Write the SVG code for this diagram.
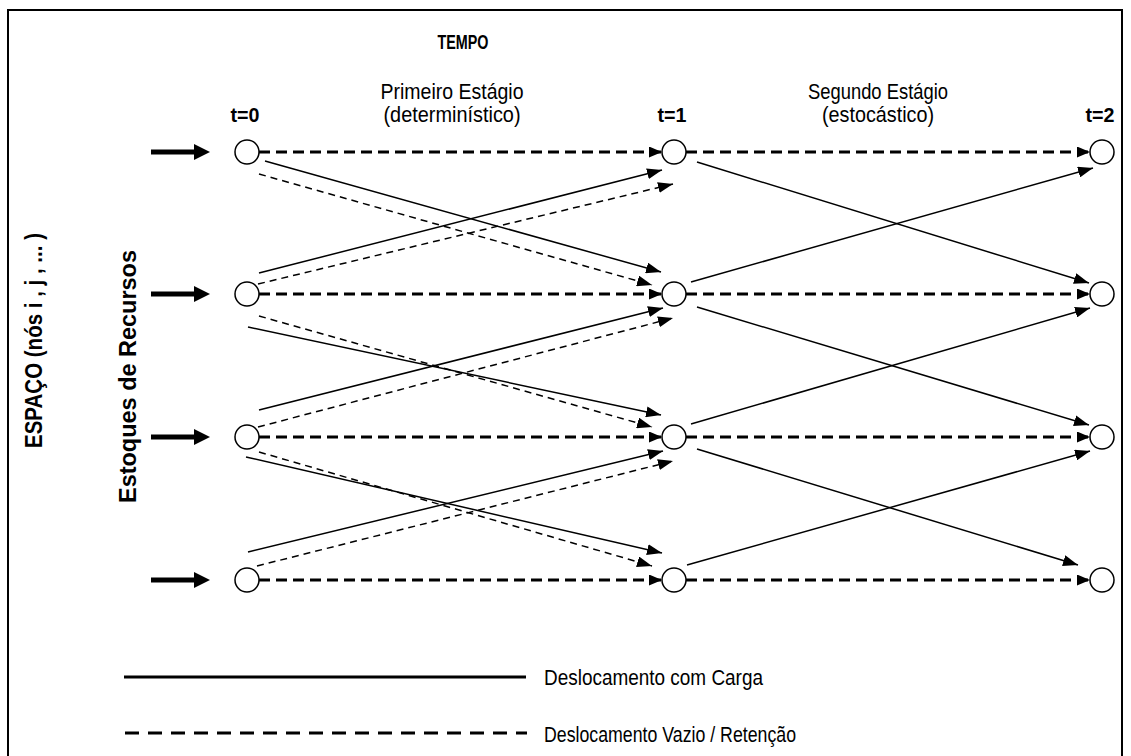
<svg xmlns="http://www.w3.org/2000/svg" width="1131" height="756" viewBox="0 0 1131 756">
<defs>
<style>
.t{font-family:"Liberation Sans",Arial,sans-serif;fill:#000}
.b{font-weight:bold}
.node{fill:#fff;stroke:#000;stroke-width:1.5}
.hd{stroke:#000;stroke-width:3;stroke-dasharray:11 6;fill:none}
.sd{stroke:#000;stroke-width:1.5;fill:none}
.dd{stroke:#000;stroke-width:1.5;stroke-dasharray:7 5;fill:none}
</style>
<marker id="ah" markerUnits="userSpaceOnUse" markerWidth="15" markerHeight="11" refX="15" refY="5.5" orient="auto">
<path d="M0,0 L15,5.5 L0,11 z" fill="#000"/>
</marker>
<marker id="ahh" markerUnits="userSpaceOnUse" markerWidth="13" markerHeight="11" refX="13" refY="5.5" orient="auto">
<path d="M0,0 L13,5.5 L0,11 z" fill="#000"/>
</marker>
</defs>
<rect x="0" y="0" width="1131" height="756" fill="#fff"/>
<rect x="8" y="10" width="1114" height="770" fill="none" stroke="#000" stroke-width="2"/>

<g id="labels">
<text class="t b" x="463" y="49" font-size="20" text-anchor="middle" textLength="51" lengthAdjust="spacingAndGlyphs">TEMPO</text>
<text class="t" x="452" y="99" font-size="22" text-anchor="middle" textLength="143" lengthAdjust="spacingAndGlyphs">Primeiro Estágio</text>
<text class="t" x="452" y="122" font-size="22" text-anchor="middle" textLength="137" lengthAdjust="spacingAndGlyphs">(determinístico)</text>
<text class="t" x="878" y="99" font-size="22" text-anchor="middle" textLength="140" lengthAdjust="spacingAndGlyphs">Segundo Estágio</text>
<text class="t" x="878" y="122" font-size="22" text-anchor="middle" textLength="112" lengthAdjust="spacingAndGlyphs">(estocástico)</text>
<text class="t b" x="245" y="122" font-size="20" text-anchor="middle" textLength="29" lengthAdjust="spacingAndGlyphs">t=0</text>
<text class="t b" x="672" y="122" font-size="20" text-anchor="middle" textLength="29" lengthAdjust="spacingAndGlyphs">t=1</text>
<text class="t b" x="1100" y="122" font-size="20" text-anchor="middle" textLength="29" lengthAdjust="spacingAndGlyphs">t=2</text>
<text class="t b" x="42" y="448" font-size="23" transform="rotate(-90 42 448)" textLength="215" lengthAdjust="spacingAndGlyphs">ESPAÇO (nós i , j , ... )</text>
<text class="t b" x="136" y="503" font-size="23" transform="rotate(-90 136 503)" textLength="253" lengthAdjust="spacingAndGlyphs">Estoques de Recursos</text>
</g>

<g id="inputs" fill="#000">
<path d="M151,149.5 H194 V144 L210,152 L194,160 V154.5 H151 z"/>
<path d="M151,291.5 H194 V286 L210,294 L194,302 V296.5 H151 z"/>
<path d="M151,434.5 H194 V429 L210,437 L194,445 V439.5 H151 z"/>
<path d="M151,577.5 H194 V572 L210,580 L194,588 V582.5 H151 z"/>
</g>

<g id="connectors">
<g class="hd" marker-end="url(#ahh)">
<line x1="259" y1="152" x2="662" y2="152"/>
<line x1="686" y1="152" x2="1090" y2="152"/>
<line x1="259" y1="294" x2="662" y2="294"/>
<line x1="686" y1="294" x2="1090" y2="294"/>
<line x1="259" y1="437" x2="662" y2="437"/>
<line x1="686" y1="437" x2="1090" y2="437"/>
<line x1="259" y1="580" x2="662" y2="580"/>
<line x1="686" y1="580" x2="1090" y2="580"/>
</g>
<g class="sd" marker-end="url(#ah)">
<line x1="265" y1="161" x2="661" y2="272"/>
<line x1="259" y1="273" x2="662" y2="170"/>
<line x1="248" y1="327" x2="661" y2="415"/>
<line x1="259" y1="410" x2="663" y2="308"/>
<line x1="246" y1="457" x2="662" y2="553"/>
<line x1="248" y1="552" x2="663" y2="451"/>
<line x1="697" y1="162" x2="1089" y2="283"/>
<line x1="691" y1="282" x2="1093" y2="168"/>
<line x1="697" y1="307" x2="1089" y2="425"/>
<line x1="691" y1="424" x2="1090" y2="308"/>
<line x1="697" y1="449" x2="1078" y2="565"/>
<line x1="687" y1="565" x2="1090" y2="451"/>
</g>
<g class="dd" marker-end="url(#ah)">
<line x1="259" y1="174" x2="652" y2="285"/>
<line x1="258" y1="284" x2="673" y2="184"/>
<line x1="259" y1="316" x2="652" y2="427"/>
<line x1="258" y1="427" x2="673" y2="318"/>
<line x1="259" y1="452" x2="652" y2="566"/>
<line x1="257" y1="566" x2="673" y2="461"/>
</g>
</g>

<g id="n00"><circle class="node" cx="247" cy="152" r="12"/></g>
<g id="n01"><circle class="node" cx="674" cy="152" r="12"/></g>
<g id="n02"><circle class="node" cx="1102" cy="152" r="12"/></g>
<g id="n10"><circle class="node" cx="247" cy="294" r="12"/></g>
<g id="n11"><circle class="node" cx="674" cy="294" r="12"/></g>
<g id="n12"><circle class="node" cx="1102" cy="294" r="12"/></g>
<g id="n20"><circle class="node" cx="247" cy="437" r="12"/></g>
<g id="n21"><circle class="node" cx="674" cy="437" r="12"/></g>
<g id="n22"><circle class="node" cx="1102" cy="437" r="12"/></g>
<g id="n30"><circle class="node" cx="247" cy="580" r="12"/></g>
<g id="n31"><circle class="node" cx="674" cy="580" r="12"/></g>
<g id="n32"><circle class="node" cx="1102" cy="580" r="12"/></g>

<g id="legend">
<line x1="124" y1="677" x2="526" y2="677" stroke="#000" stroke-width="3"/>
<line x1="125" y1="733" x2="527" y2="733" stroke="#000" stroke-width="3" stroke-dasharray="14 9"/>
<text class="t" x="544" y="685" font-size="22" textLength="219" lengthAdjust="spacingAndGlyphs">Deslocamento com Carga</text>
<text class="t" x="544" y="742" font-size="22" textLength="252" lengthAdjust="spacingAndGlyphs">Deslocamento Vazio / Retenção</text>
</g>
</svg>
